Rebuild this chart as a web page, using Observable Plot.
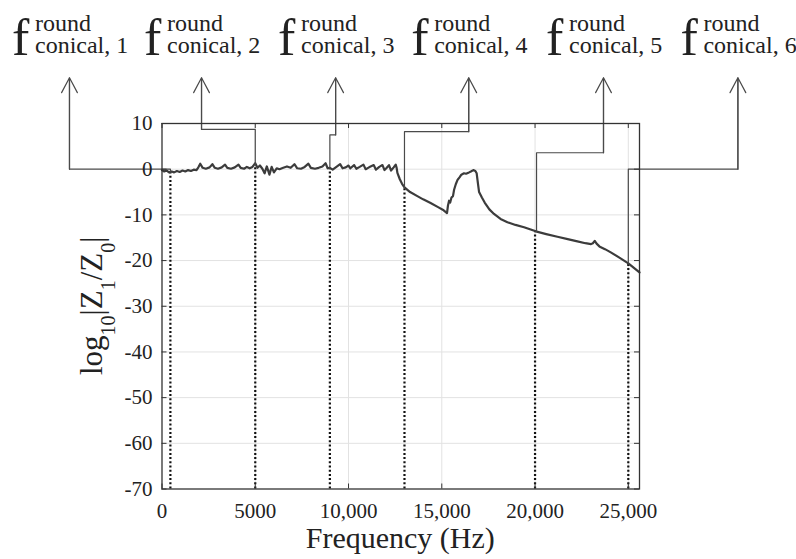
<!DOCTYPE html>
<html>
<head>
<meta charset="utf-8">
<script src="https://cdn.jsdelivr.net/npm/d3@7"></script>
<script src="https://cdn.jsdelivr.net/npm/@observablehq/plot@0.6"></script>
<style>
  html, body { margin: 0; padding: 0; background: #fff; }
  svg text { font-family: "Liberation Serif", "Times New Roman", serif; }
</style>
</head>
<body>
<div id="chart"></div>
<script>
// ---- data ----
const freq = [0,120,250,380,520,650,800,950,1100,1250,1400,1550,1700,1850,1950,2050,2180,2350,2550,2700,2830,3000,3200,3380,3500,3700,3900,4100,4220,4400,4550,4700,4850,5000,5120,5250,5380,5500,5620,5760,5880,6000,6150,6300,6500,6700,6900,7100,7250,7450,7650,7850,7980,8200,8400,8600,8770,8880,9000,9150,9350,9550,9680,9850,10000,10100,10300,10420,10600,10800,10920,11100,11350,11470,11650,11820,11930,12050,12170,12280,12420,12530,12580,12620,12750,12870,13000,13300,13690,14000,14400,14800,15100,15280,15330,15390,15450,15520,15600,15660,15750,15850,15950,16050,16190,16300,16460,16560,16690,16800,16870,16950,17000,17150,17300,17550,17800,18150,18520,18950,19410,20040,20600,21200,21750,22270,22700,23000,23100,23200,23300,23450,23750,24060,24500,25000,25300,25600];
const magnitude = [-0.2,-0.5,-0.3,-0.7,-0.5,-0.7,-0.4,-0.6,-0.3,-0.5,-0.2,-0.4,-0.1,-0.2,0.4,1.2,0.3,0.1,0.4,1.1,0.3,0.1,0.4,1.0,0.3,0.1,0.4,1.0,0.3,0.1,0.5,0.2,0.5,1.3,0.3,0.8,0.1,-0.9,0.6,-1.2,0.5,-0.7,0.2,0.0,0.3,0.6,0.3,1.1,0.2,0.1,0.5,1.2,0.3,0.1,0.3,0.6,1.3,0.2,0.3,-0.1,0.5,1.1,0.2,0.4,0.8,0.2,0.9,0.1,0.5,1.0,0.0,0.4,0.9,-0.1,0.5,0.9,-0.2,0.3,0.9,-0.3,0.4,1.0,0.3,-0.8,-2.2,-3.2,-4.0,-5.0,-5.9,-6.6,-7.4,-8.3,-9.0,-9.6,-8.0,-6.9,-7.3,-6.2,-5.9,-4.5,-3.3,-2.3,-1.8,-1.2,-0.9,-1.0,-0.7,-0.5,-0.2,-0.4,-0.9,-3.5,-5.0,-6.2,-7.3,-8.8,-9.8,-10.9,-11.6,-12.2,-12.7,-13.6,-14.2,-14.8,-15.3,-15.8,-16.2,-16.4,-16.2,-15.7,-16.3,-16.9,-17.5,-18.2,-19.3,-20.6,-21.6,-22.6];

// resonance markers (dotted lines) and their annotation connectors
const markerFreq = [450, 5000, 9000, 13000, 20000, 25000];
const markerMag = [-0.5, 1.0, 0.3, -4.0, -13.6, -20.6];
const connectorFreq = [450, 5000, 9000, 13000, 20080, 25000];
const elbowMag = [0, 8.7, 7.5, 8.2, 3.6, 0];
const arrowFreq = [-4960, 2119, 9308, 16444, 23670, 30875];
const arrowTipMag = 20;
const labelNumbers = ["1", "2", "3", "4", "5", "6"];

// axes
const xDomain = [0, 25600];
const yDomain = [-70, 10];
const xTicks = [0, 5000, 10000, 15000, 20000, 25000];
const xTickLabels = ["0", "5000", "10,000", "15,000", "20,000", "25,000"];
const yTicks = [-70, -60, -50, -40, -30, -20, -10, 0, 10];
const yTickLabels = ["-70", "-60", "-50", "-40", "-30", "-20", "-10", "0", "10"];
const xTitle = "Frequency (Hz)";

// ---- build ----
const W = 796, H = 559;
const mL = 161.5, mR = 157, mT = 123, mB = 70.5;
const plotW = W - mL - mR, plotH = H - mT - mB;
const serif = "Liberation Serif, Times New Roman, serif";
const ink = "#222";
const tickLen = 5;
const yPerPx = (yDomain[1] - yDomain[0]) / plotH;
const xPerPx = (xDomain[1] - xDomain[0]) / plotW;

const curve = freq.map((f, i) => ({f, m: magnitude[i]}));
const markers = markerFreq.map((f, i) => ({f, m: markerMag[i]}));
const connectors = [];
connectorFreq.forEach((f, i) => {
  connectors.push({k: i, f, m: markerMag[i]});
  connectors.push({k: i, f, m: elbowMag[i]});
  connectors.push({k: i, f: arrowFreq[i], m: elbowMag[i]});
  connectors.push({k: i, f: arrowFreq[i], m: arrowTipMag});
});
const arrows = arrowFreq.map((f, i) => ({f, m0: elbowMag[i], m1: arrowTipMag}));

function textLayer(index, scales, values, dims) {
  const g = d3.create("svg:g").attr("font-family", serif).attr("fill", ink).attr("text-anchor", "start");
  arrowFreq.forEach((f, i) => {
    const X = scales.x(f), Y = scales.y(arrowTipMag);
    const t = g.append("text").attr("x", X - 57).attr("y", Y - 22).attr("font-size", 52);
    t.append("tspan").text("f");
    t.append("tspan").attr("x", X - 34).attr("y", Y - 46).attr("font-size", 24).text("round");
    t.append("tspan").attr("x", X - 34).attr("y", Y - 24).attr("font-size", 24).text("conical, " + labelNumbers[i]);
  });
  // y title with subscripts
  const cy = (dims.marginTop + dims.height - dims.marginBottom) / 2;
  const yl = g.append("text")
    .attr("transform", `translate(${dims.marginLeft - 59.5},${cy}) rotate(-90)`)
    .attr("text-anchor", "middle").attr("font-size", 31);
  const parts = [["log", 0], ["10", 1], ["|Z", 0], ["1", 1], ["/Z", 0], ["0", 1], ["|", 0]];
  let prevSub = 0;
  parts.forEach(([t, sub]) => {
    const ts = yl.append("tspan").text(t);
    const shift = (sub - prevSub) * 13;
    if (shift) ts.attr("dy", shift);
    if (sub) ts.attr("font-size", 20);
    prevSub = sub;
  });
  // x title
  g.append("text")
    .attr("x", (dims.marginLeft + dims.width - dims.marginRight) / 2)
    .attr("y", dims.height - 10.7)
    .attr("text-anchor", "middle").attr("font-size", 30)
    .text(xTitle);
  return g.node();
}

const chart = Plot.plot({
  width: W, height: H,
  marginLeft: mL, marginRight: mR, marginTop: mT, marginBottom: mB,
  style: {fontFamily: serif, background: "#fff", overflow: "visible"},
  x: {domain: xDomain, axis: null},
  y: {domain: yDomain, axis: null},
  marks: [
    // grid
    Plot.ruleX(xTicks.slice(1), {x: d => d, stroke: "#e2e2e2", strokeWidth: 1}),
    Plot.ruleY(yTicks.slice(1, -1), {y: d => d, stroke: "#e2e2e2", strokeWidth: 1}),
    // dotted resonance markers
    Plot.ruleX(markers, {x: "f", y1: yDomain[0], y2: "m", stroke: "#111", strokeWidth: 2.2, strokeDasharray: "2,2.2"}),
    // response curve
    Plot.line(curve, {x: "f", y: "m", stroke: "#3c3c3c", strokeWidth: 2.2, strokeLinejoin: "round"}),
    // annotation connectors
    Plot.line(connectors, {x: "f", y: "m", z: "k", stroke: "#4a4a4a", strokeWidth: 1.2, curve: "linear"}),
    Plot.arrow(arrows, {x1: "f", y1: "m0", x2: "f", y2: "m1", stroke: "#4a4a4a", strokeWidth: 1.2, headLength: 21, headAngle: 56}),
    // inward ticks (all four sides)
    Plot.ruleX(xTicks, {x: d => d, y1: yDomain[0], y2: yDomain[0] + tickLen * yPerPx, stroke: "#333"}),
    Plot.ruleX(xTicks, {x: d => d, y1: yDomain[1], y2: yDomain[1] - tickLen * yPerPx, stroke: "#333"}),
    Plot.ruleY(yTicks, {y: d => d, x1: xDomain[0], x2: xDomain[0] + tickLen * xPerPx, stroke: "#333"}),
    Plot.ruleY(yTicks, {y: d => d, x1: xDomain[1], x2: xDomain[1] - tickLen * xPerPx, stroke: "#333"}),
    Plot.frame({stroke: "#333", strokeWidth: 1.3}),
    // tick labels
    Plot.text(xTicks, {x: d => d, y: yDomain[0], dy: 29.2, lineAnchor: "bottom", text: (d, i) => xTickLabels[i], fontSize: 21, fontFamily: serif, fill: ink}),
    Plot.text(yTicks, {x: xDomain[0], y: d => d, dx: -9.5, textAnchor: "end", lineAnchor: "middle", text: (d, i) => yTickLabels[i], fontSize: 21, fontFamily: serif, fill: ink}),
    textLayer
  ]
});
document.getElementById("chart").appendChild(chart);
</script>
</body>
</html>
